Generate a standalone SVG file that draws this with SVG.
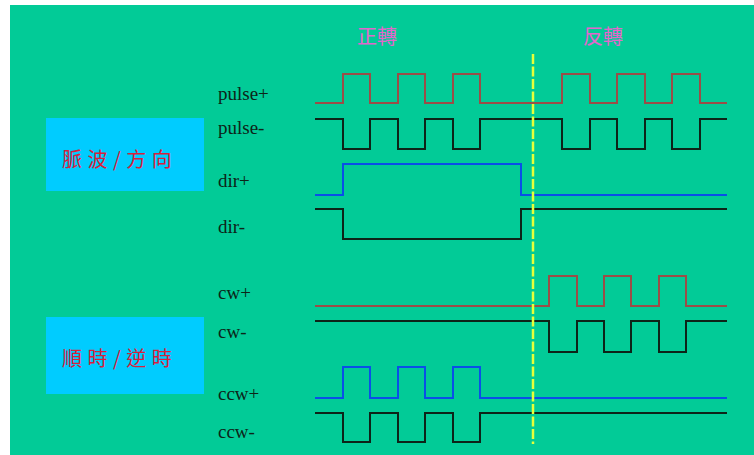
<svg xmlns="http://www.w3.org/2000/svg" width="754" height="455" viewBox="0 0 754 455">
<style>
.bg{fill:#02CB97}
.box{fill:#00CCFF}
.lbl{font-family:"Liberation Serif",serif;font-size:19px;fill:#0d2418}
.cn{font-family:"Noto Sans CJK TC",sans-serif;font-size:20px;fill:#D8203A;letter-spacing:5.5px}
.hd{font-family:"Noto Sans CJK TC",sans-serif;font-size:20px;fill:#E266CC}
.w{fill:none;stroke-width:2;stroke-linejoin:miter}
.red{stroke:#9A4E48}
.blk{stroke:#0d2418}
.blu{stroke:#0a4fe8}
.div{stroke:#E6FF3A;stroke-width:2.5;stroke-dasharray:10 2.5;fill:none}
</style>
<rect x="0" y="0" width="754" height="455" fill="#ffffff"/>
<rect class="bg" x="10" y="5" width="744" height="450"/>
<g id="title-forward"><text class="hd" x="357" y="44">正轉</text></g>
<g id="title-reverse"><text class="hd" x="583" y="44">反轉</text></g>
<g id="group-pulse-dir">
<rect class="box" x="46" y="118" width="158" height="73"/>
<text class="cn" x="62" y="167">脈波/方向</text>
</g>
<g id="group-cw-ccw">
<rect class="box" x="46" y="317" width="158" height="77"/>
<text class="cn" x="62" y="366">順時/逆時</text>
</g>
<g id="labels">
<text class="lbl" x="218" y="100">pulse+</text>
<text class="lbl" x="218" y="134">pulse-</text>
<text class="lbl" x="218" y="187">dir+</text>
<text class="lbl" x="218" y="233">dir-</text>
<text class="lbl" x="218" y="299">cw+</text>
<text class="lbl" x="218" y="338">cw-</text>
<text class="lbl" x="218" y="400">ccw+</text>
<text class="lbl" x="218" y="438">ccw-</text>
</g>
<g id="connectors">
<path id="pulse-plus" class="w red" d="M315 103H343V74H370V103H398V74H425V103H453V74H480V103H562V74H590V103H617V74H645V103H672V74H700V103H727"/>
<path id="pulse-minus" class="w blk" d="M315 119H343V149H370V119H398V149H425V119H453V149H480V119H562V149H590V119H617V149H645V119H672V149H700V119H727"/>
<path id="dir-plus" class="w blu" d="M315 195H343V164H521V195H727"/>
<path id="dir-minus" class="w blk" d="M315 209H343V239H521V209H727"/>
<path id="cw-plus" class="w red" d="M315 306H549V276H577V306H604V276H631V306H659V276H686V306H727"/>
<path id="cw-minus" class="w blk" d="M315 321H549V352H577V321H604V352H631V321H659V352H686V321H727"/>
<path id="ccw-plus" class="w blu" d="M315 398H343V367H370V398H398V367H425V398H453V367H480V398H727"/>
<path id="ccw-minus" class="w blk" d="M315 413H343V442H370V413H398V442H425V413H453V442H480V413H727"/>
<line id="divider" class="div" x1="533" y1="54" x2="533" y2="444"/>
</g>
</svg>
